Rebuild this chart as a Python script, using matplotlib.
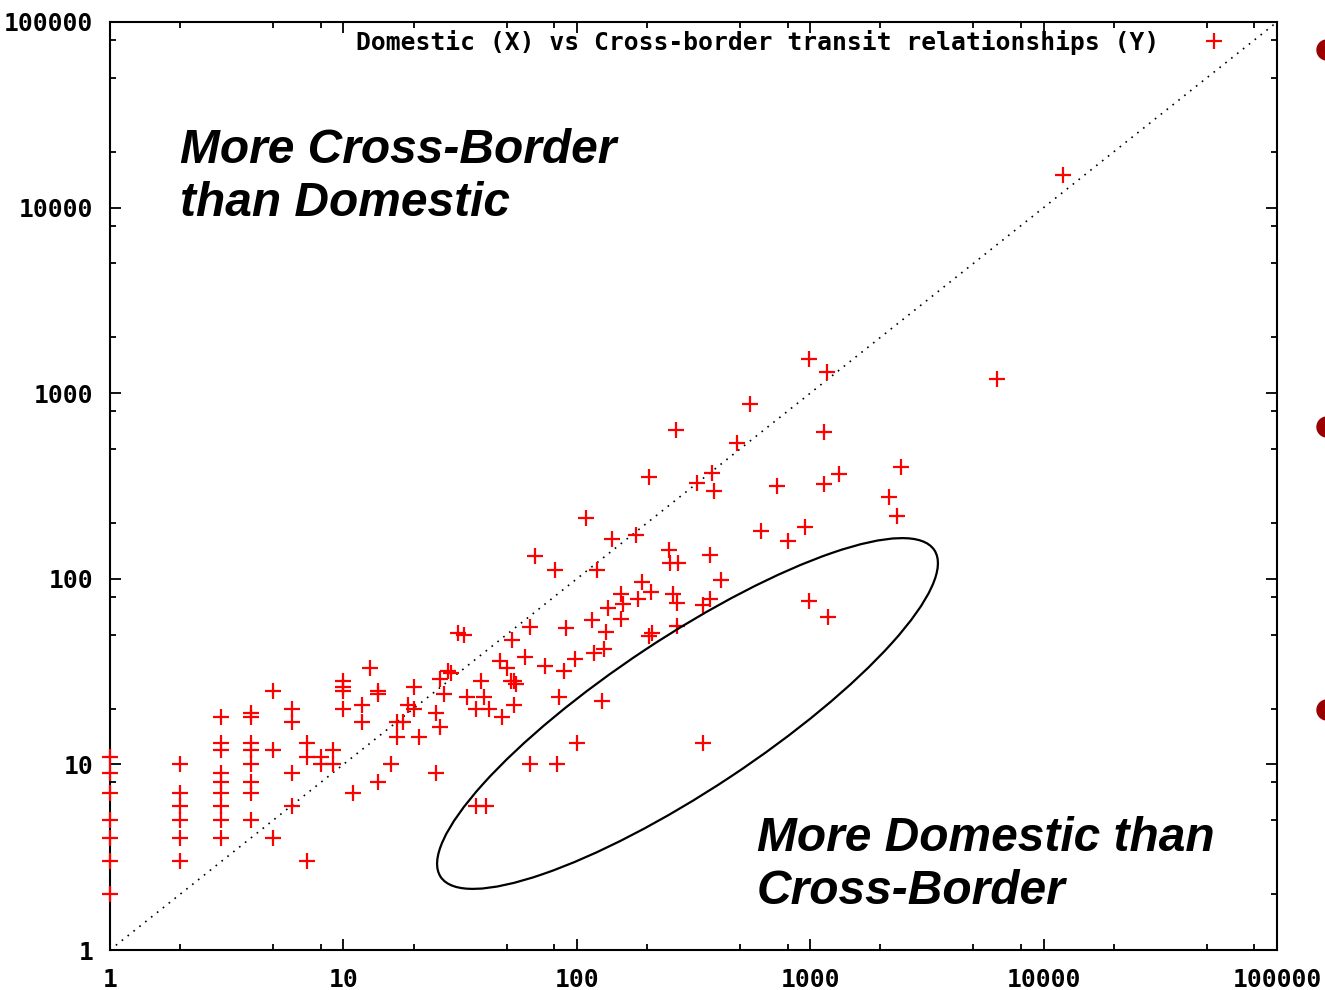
import numpy as np
import matplotlib
matplotlib.use("Agg")
import matplotlib.pyplot as plt
from matplotlib.ticker import LogLocator, NullFormatter
from matplotlib.patches import Ellipse, Circle

# Domestic (X) vs Cross-border (Y) transit relationships
domestic = [
    1, 1, 1, 1, 1, 1, 1,
    2, 2, 2, 2, 2, 2,
    3, 3, 3, 3, 3, 3, 3, 3, 3,
    4, 4, 4, 4, 4, 4, 4, 4,
    5, 5, 5,
    6, 6, 6, 6,
    7, 7, 7,
    8, 8, 9, 9,
    10, 10, 10, 10,
    11, 12, 12, 13, 14, 14, 14, 16, 17, 17, 18, 19, 20, 20, 21,
    25, 25, 26, 26, 27, 28, 29, 31, 33, 34, 37, 37, 39, 40, 41, 42,
    47, 48, 50, 52, 54, 55, 53, 54, 60, 63, 63, 66, 73, 81, 82, 84, 88, 90, 98,
    100, 110, 116, 118, 122, 128, 131, 133, 136, 142, 155, 155, 158, 179, 182,
    191, 203, 203, 207, 211, 249, 252, 259, 266, 268, 270, 272, 326, 346, 348,
    372, 372, 378, 388, 413, 487, 552, 613, 718, 805, 951, 991, 991,
    1146, 1146, 1177, 1196, 1328, 2183, 2345, 2441, 6300, 12100,
]
cross_border = [
    11, 9, 7, 5, 4, 3, 2,
    10, 7, 6, 5, 4, 3,
    18, 13, 12, 9, 8, 7, 6, 5, 4,
    19, 18, 13, 12, 10, 8, 7, 5,
    25, 12, 4,
    20, 17, 9, 6,
    13, 11, 3,
    11, 10, 12, 10,
    28, 26, 25, 20,
    7, 21, 17, 33, 25, 24, 8, 10, 17, 14, 17, 21, 20, 26, 14,
    19, 9, 16, 29, 24, 32, 31, 51, 50, 23, 20, 6, 28, 23, 6, 20,
    36, 18, 33, 28, 28, 27, 47, 21, 38, 55, 10, 132, 34, 112, 10, 23, 32, 54, 37,
    13, 212, 60, 40, 112, 22, 42, 52, 70, 163, 83, 61, 73, 172, 78,
    96, 355, 49, 85, 51, 143, 121, 83, 634, 56, 74, 121, 330, 72, 13,
    135, 78, 370, 298, 98, 541, 875, 181, 316, 159, 191, 1523, 76,
    620, 324, 1295, 62, 367, 277, 218, 402, 1200, 15000,
]

decades = [1, 10, 100, 1000, 10000, 100000]
tick_labels = ["1", "10", "100", "1000", "10000", "100000"]
legend_label = "Domestic (X) vs Cross-border transit relationships (Y)"

mono = {"family": "DejaVu Sans Mono", "weight": "bold", "size": 17.7}
note_font = {"family": "Liberation Sans", "weight": "bold", "style": "italic", "size": 34.5}

fig = plt.figure(figsize=(13.25, 9.9), dpi=100)
ax = fig.add_axes([110 / 1325, 40 / 990, 1167 / 1325, 928 / 990])
ax.set_xscale("log")
ax.set_yscale("log")
ax.set_xlim(1, 100000)
ax.set_ylim(1, 100000)

# y = x reference line
ax.plot(decades, decades, color="black", lw=1.2, linestyle=(0, (1, 3.5)), zorder=1)

ax.plot(domestic, cross_border, linestyle="none", marker="+", color="#ff0000",
        markersize=11.5, markeredgewidth=1.6, label=legend_label, zorder=3, clip_on=False)

for axis in (ax.xaxis, ax.yaxis):
    axis.set_minor_locator(LogLocator(base=10, subs=[2, 5, 8], numticks=10))
    axis.set_minor_formatter(NullFormatter())
ax.set_xticks(decades)
ax.set_yticks(decades)
ax.set_xticklabels(tick_labels, fontdict=mono)
ax.set_yticklabels(tick_labels, fontdict=mono)

ax.tick_params(which="both", direction="in", top=True, right=True, width=1.3, colors="black")
ax.tick_params(which="major", length=8)
ax.tick_params(which="minor", length=4.5)
ax.tick_params(axis="x", which="major", pad=13)
ax.tick_params(axis="y", which="major", pad=12)
for sp in ax.spines.values():
    sp.set_linewidth(1.5)

leg = ax.legend(loc="upper right", bbox_to_anchor=((1232 - 110) / 1167, (950 - 30) / 928),
                frameon=False, markerfirst=False, prop=mono, handlelength=1.5,
                handletextpad=1.45, borderpad=0, borderaxespad=0)

# slide annotations (va='baseline' aligns the last line here)
fig.text(180 / 1325, (990 - 216) / 990, "More Cross-Border\nthan Domestic",
         fontdict=note_font, va="baseline", ha="left", linespacing=1.22)
fig.text(757 / 1325, (990 - 904) / 990, "More Domestic than\nCross-Border",
         fontdict=note_font, va="baseline", ha="left", linespacing=1.22)

fig.add_artist(Ellipse((6.875, 2.765), 5.92, 1.53, angle=33.5, fill=False,
                       edgecolor="black", lw=1.6, transform=fig.dpi_scale_trans))

# bullet dots from the slide, cut by the right edge
for yb in [50, 427, 710]:
    fig.add_artist(Circle((13.27, (990 - yb) / 100), 0.10, color="#990000",
                          transform=fig.dpi_scale_trans))

fig.savefig("out.png", dpi=100)
